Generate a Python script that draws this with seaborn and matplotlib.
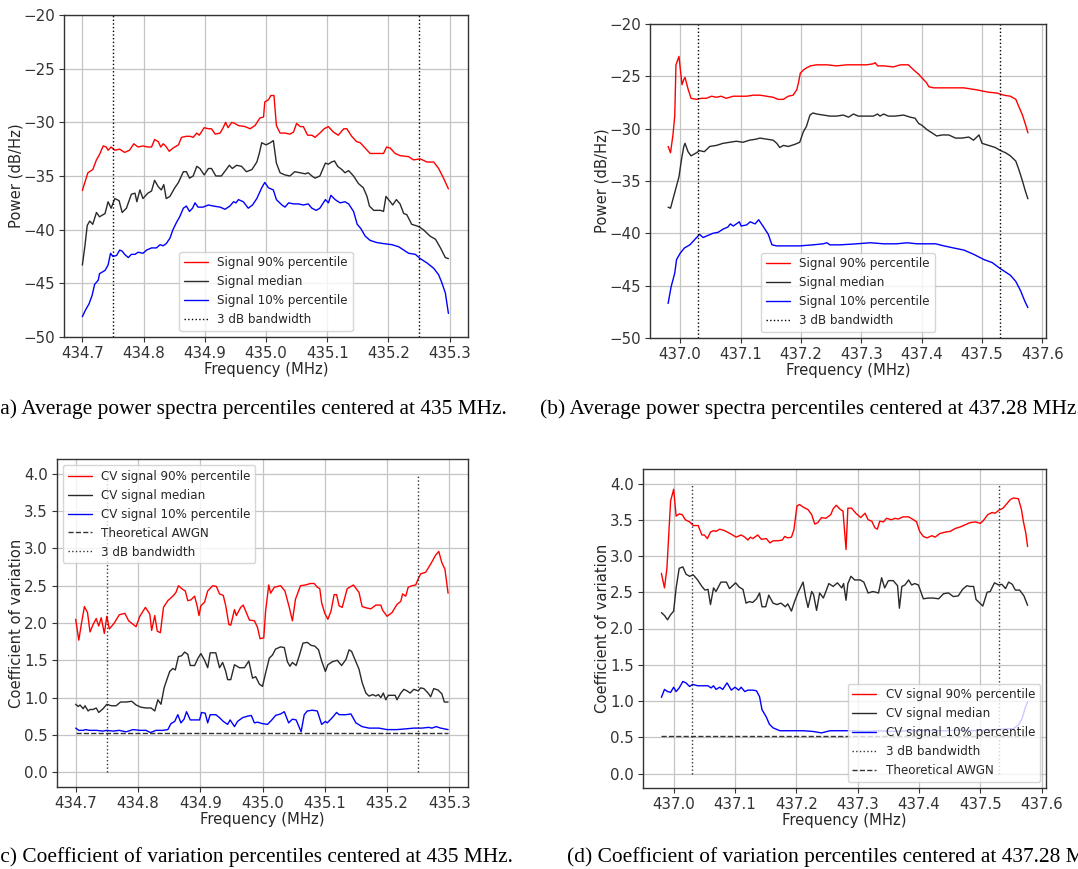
import matplotlib
matplotlib.use("Agg")
import seaborn as sns
from matplotlib import pyplot as plt

# ---------------- (a) power spectra, centre 435 MHz ----------------
a_f90 = [434.700, 434.709, 434.717, 434.723, 434.728, 434.734, 434.739, 434.742, 434.747, 434.753,
         434.761, 434.769, 434.777, 434.784, 434.791, 434.799, 434.807, 434.813, 434.818, 434.824,
         434.828, 434.832, 434.836, 434.842, 434.848, 434.857, 434.862, 434.870, 434.876, 434.881,
         434.887, 434.891, 434.899, 434.906, 434.911, 434.917, 434.925, 434.930, 434.934, 434.938,
         434.944, 434.949, 434.955, 434.966, 434.974, 434.982, 434.990, 434.996, 434.998, 435.004,
         435.008, 435.013, 435.017, 435.023, 435.031, 435.039, 435.045, 435.050, 435.056, 435.061,
         435.068, 435.075, 435.080, 435.088, 435.095, 435.102, 435.110, 435.118, 435.127, 435.132,
         435.140, 435.148, 435.154, 435.162, 435.170, 435.181, 435.192, 435.197, 435.203, 435.211,
         435.219, 435.233, 435.241, 435.252, 435.263, 435.274, 435.282, 435.290, 435.298]
a_p90 = [-36.35, -34.7, -34.4, -33.5, -33.0, -32.2, -32.3, -32.6, -32.3, -32.6,
         -32.5, -32.8, -32.6, -32.0, -32.3, -32.2, -32.3, -32.3, -31.6, -31.8,
         -32.3, -32.0, -32.2, -32.7, -32.4, -32.1, -31.4, -31.3, -31.3, -31.4,
         -31.0, -31.2, -30.5, -30.6, -30.6, -31.1, -31.0, -30.5, -30.0, -30.5,
         -30.0, -30.1, -30.3, -30.4, -30.6, -30.3, -29.6, -29.5, -28.1, -27.9,
         -27.5, -27.5, -30.3, -31.0, -31.0, -31.1, -30.9, -30.1, -30.4, -30.4,
         -31.2, -31.2, -31.4, -31.0, -30.6, -30.4, -30.9, -31.2, -30.6, -30.6,
         -31.3, -31.8, -31.9, -32.4, -32.9, -32.9, -32.9, -32.3, -32.4, -32.9,
         -33.1, -33.2, -33.5, -33.4, -33.7, -33.7, -34.3, -35.2, -36.2]

a_fmed = [434.700, 434.704, 434.708, 434.712, 434.717, 434.723, 434.728, 434.737, 434.742, 434.747,
          434.753, 434.760, 434.765, 434.772, 434.780, 434.786, 434.789, 434.794, 434.799, 434.807,
          434.813, 434.818, 434.824, 434.829, 434.833, 434.837, 434.843, 434.851, 434.857, 434.865,
          434.870, 434.875, 434.881, 434.887, 434.892, 434.899, 434.906, 434.911, 434.918, 434.927,
          434.935, 434.940, 434.945, 434.952, 434.960, 434.968, 434.977, 434.985, 434.989, 434.993,
          435.000, 435.007, 435.012, 435.017, 435.023, 435.031, 435.039, 435.047, 435.056, 435.064,
          435.069, 435.075, 435.080, 435.088, 435.097, 435.102, 435.107, 435.112, 435.117, 435.124,
          435.129, 435.135, 435.143, 435.151, 435.159, 435.165, 435.169, 435.176, 435.187, 435.192,
          435.196, 435.203, 435.207, 435.213, 435.219, 435.225, 435.230, 435.238, 435.249, 435.257,
          435.268, 435.277, 435.285, 435.293, 435.298]
a_med = [-43.3, -41.6, -39.6, -39.2, -39.5, -38.4, -38.8, -38.5, -37.4, -38.0,
         -37.1, -37.3, -38.4, -38.0, -36.7, -36.6, -37.4, -36.3, -37.1, -36.6,
         -36.4, -35.4, -36.0, -36.3, -35.8, -37.1, -36.9, -36.1, -35.6, -34.6,
         -34.6, -35.2, -35.0, -34.1, -34.3, -34.9, -34.3, -34.3, -35.0, -35.0,
         -34.4, -34.0, -34.3, -34.0, -34.1, -34.6, -34.4, -33.7, -32.9, -31.9,
         -32.1, -31.9, -31.7, -33.8, -34.7, -34.9, -35.0, -34.6, -34.7, -34.8,
         -34.7, -35.0, -35.2, -35.0, -33.8, -33.9, -33.7, -33.6, -34.1, -34.4,
         -34.7, -34.5, -35.0, -35.7, -36.1, -36.9, -37.8, -38.2, -38.2, -38.3,
         -36.9, -37.4, -37.7, -37.2, -37.6, -38.5, -38.6, -39.5, -39.7, -40.0,
         -40.6, -40.9, -41.7, -42.6, -42.7]

a_f10 = [434.700, 434.705, 434.711, 434.716, 434.720, 434.726, 434.728, 434.737, 434.742, 434.746,
         434.750, 434.756, 434.761, 434.765, 434.769, 434.775, 434.780, 434.786, 434.791, 434.799,
         434.805, 434.813, 434.821, 434.827, 434.832, 434.837, 434.843, 434.848, 434.854, 434.859,
         434.865, 434.870, 434.875, 434.880, 434.884, 434.889, 434.897, 434.906, 434.914, 434.925,
         434.933, 434.941, 434.947, 434.951, 434.955, 434.963, 434.971, 434.978, 434.985, 434.993,
         434.998, 435.004, 435.012, 435.017, 435.026, 435.031, 435.037, 435.045, 435.053, 435.061,
         435.069, 435.075, 435.082, 435.088, 435.097, 435.102, 435.106, 435.113, 435.121, 435.129,
         435.135, 435.143, 435.149, 435.155, 435.162, 435.170, 435.181, 435.192, 435.206, 435.217,
         435.225, 435.233, 435.244, 435.252, 435.263, 435.274, 435.282, 435.287, 435.293, 435.298]
a_p10 = [-48.1, -47.5, -46.9, -46.1, -45.1, -44.7, -44.1, -43.8, -43.3, -42.2,
         -42.5, -42.4, -41.9, -42.0, -42.3, -42.6, -42.3, -42.3, -42.1, -42.2,
         -41.9, -41.7, -41.7, -41.4, -41.5, -41.3, -40.8, -40.0, -39.3, -38.8,
         -38.0, -37.8, -38.3, -38.0, -37.5, -37.9, -37.9, -37.7, -37.8, -37.9,
         -38.1, -37.8, -37.4, -37.5, -37.2, -37.4, -38.0, -37.7, -37.1, -36.1,
         -35.6, -36.1, -36.3, -37.2, -37.7, -37.9, -37.5, -37.6, -37.6, -37.7,
         -37.6, -38.0, -38.2, -38.0, -37.2, -37.5, -36.8, -37.2, -37.5, -37.4,
         -37.6, -38.3, -39.5, -39.9, -40.6, -41.0, -41.2, -41.3, -41.4, -41.6,
         -41.9, -42.2, -42.3, -42.7, -43.1, -43.6, -44.2, -44.9, -45.9, -47.8]

a_bw = [434.75, 435.25]

# ---------------- (b) power spectra, centre 437.28 MHz ----------------
b_f90 = [436.980, 436.984, 436.988, 436.991, 436.993, 436.998, 437.000, 437.003, 437.006, 437.008,
         437.013, 437.018, 437.027, 437.035, 437.043, 437.052, 437.060, 437.068, 437.076, 437.088,
         437.099, 437.110, 437.121, 437.132, 437.143, 437.154, 437.162, 437.171, 437.179, 437.187,
         437.193, 437.196, 437.199, 437.204, 437.209, 437.216, 437.226, 437.243, 437.259, 437.276,
         437.293, 437.309, 437.320, 437.323, 437.327, 437.337, 437.353, 437.365, 437.378, 437.387,
         437.395, 437.403, 437.408, 437.412, 437.420, 437.437, 437.453, 437.470, 437.481, 437.492,
         437.509, 437.525, 437.536, 437.547, 437.556, 437.561, 437.567, 437.572, 437.576]
b_p90 = [-31.7, -32.3, -30.6, -28.8, -23.9, -23.1, -24.2, -25.8, -25.3, -25.1,
         -26.2, -27.1, -27.2, -27.1, -27.1, -26.9, -27.0, -26.9, -27.1, -26.9,
         -26.9, -26.9, -26.8, -26.8, -26.9, -27.0, -27.2, -27.2, -26.9, -26.8,
         -26.3, -25.6, -24.7, -24.4, -24.2, -24.0, -23.9, -23.9, -24.0, -23.9,
         -23.9, -23.9, -23.8, -23.7, -24.0, -24.0, -24.1, -23.9, -23.9, -24.4,
         -24.8, -25.3, -25.6, -26.0, -26.1, -26.1, -26.1, -26.1, -26.2, -26.3,
         -26.5, -26.6, -26.8, -26.9, -27.2, -27.9, -28.7, -29.6, -30.4]

b_fmed = [436.980, 436.984, 436.991, 436.998, 437.002, 437.006, 437.008, 437.013, 437.018, 437.027,
          437.032, 437.040, 437.049, 437.060, 437.071, 437.082, 437.093, 437.104, 437.115, 437.126,
          437.132, 437.143, 437.154, 437.160, 437.165, 437.171, 437.179, 437.190, 437.198, 437.204,
          437.209, 437.215, 437.220, 437.226, 437.237, 437.248, 437.259, 437.270, 437.279, 437.287,
          437.295, 437.309, 437.320, 437.327, 437.331, 437.337, 437.345, 437.356, 437.370, 437.381,
          437.389, 437.395, 437.401, 437.409, 437.417, 437.425, 437.434, 437.445, 437.456, 437.467,
          437.478, 437.486, 437.495, 437.500, 437.511, 437.522, 437.531, 437.539, 437.547, 437.556,
          437.561, 437.567, 437.572, 437.576]
b_med = [-37.5, -37.6, -36.1, -34.6, -33.0, -31.7, -31.4, -32.2, -32.6, -32.3,
         -32.1, -32.2, -31.7, -31.6, -31.4, -31.3, -31.2, -31.3, -31.1, -31.0,
         -30.9, -31.0, -31.1, -31.4, -31.8, -31.6, -31.7, -31.5, -31.3, -30.3,
         -29.8, -28.7, -28.5, -28.6, -28.7, -28.8, -28.8, -28.7, -28.9, -28.6,
         -28.8, -28.8, -28.8, -28.6, -28.8, -28.6, -28.8, -28.8, -28.7, -28.9,
         -29.0, -29.5, -29.7, -30.1, -30.4, -30.7, -30.6, -30.6, -30.9, -30.9,
         -30.8, -31.1, -30.6, -31.4, -31.6, -31.8, -32.1, -32.3, -32.6, -33.1,
         -33.9, -35.0, -36.0, -36.7]

b_f10 = [436.980, 436.985, 436.991, 436.994, 437.000, 437.007, 437.016, 437.024, 437.032, 437.038,
         437.046, 437.054, 437.063, 437.071, 437.079, 437.083, 437.088, 437.093, 437.098, 437.101,
         437.110, 437.116, 437.124, 437.130, 437.137, 437.146, 437.152, 437.160, 437.176, 437.198,
         437.220, 437.237, 437.243, 437.248, 437.265, 437.293, 437.315, 437.337, 437.359, 437.376,
         437.392, 437.409, 437.423, 437.437, 437.453, 437.470, 437.486, 437.503, 437.517, 437.531,
         437.547, 437.556, 437.564, 437.571, 437.576]
b_p10 = [-46.7, -45.1, -43.8, -42.5, -41.9, -41.4, -41.1, -40.6, -40.1, -40.4,
         -40.2, -40.0, -39.9, -39.6, -39.4, -39.1, -39.3, -39.1, -38.9, -39.3,
         -39.2, -38.9, -39.1, -38.7, -39.3, -40.1, -41.1, -41.2, -41.2, -41.2,
         -41.1, -41.0, -40.9, -41.1, -41.1, -41.0, -40.9, -41.0, -41.0, -40.9,
         -41.0, -41.0, -41.0, -41.2, -41.4, -41.6, -42.0, -42.5, -42.8, -43.4,
         -44.0, -44.6, -45.5, -46.5, -47.1]

b_bw = [437.03, 437.53]

# ---------------- (c) coefficient of variation, centre 435 MHz ----------------
c_f90 = [434.700, 434.705, 434.709, 434.714, 434.719, 434.723, 434.728, 434.733, 434.737, 434.741,
         434.746, 434.750, 434.754, 434.762, 434.770, 434.779, 434.785, 434.797, 434.803, 434.812,
         434.819, 434.822, 434.827, 434.831, 434.836, 434.841, 434.848, 434.856, 434.861, 434.865,
         434.872, 434.876, 434.880, 434.885, 434.891, 434.895, 434.898, 434.901, 434.907, 434.912,
         434.920, 434.926, 434.931, 434.937, 434.941, 434.946, 434.949, 434.955, 434.958, 434.965,
         434.969, 434.974, 434.979, 434.987, 434.992, 434.996, 435.002, 435.005, 435.010, 435.013,
         435.019, 435.029, 435.036, 435.043, 435.048, 435.053, 435.061, 435.069, 435.077, 435.083,
         435.088, 435.092, 435.095, 435.100, 435.105, 435.110, 435.115, 435.119, 435.123, 435.128,
         435.136, 435.146, 435.155, 435.160, 435.168, 435.174, 435.182, 435.190, 435.193, 435.200,
         435.208, 435.216, 435.222, 435.225, 435.230, 435.234, 435.240, 435.246, 435.250, 435.254,
         435.262, 435.270, 435.278, 435.283, 435.288, 435.293, 435.298]
c_p90 = [2.05, 1.77, 1.98, 2.22, 2.14, 1.88, 1.98, 2.06, 1.96, 2.07,
         1.86, 2.09, 1.92, 2.00, 2.11, 2.13, 2.03, 1.95, 2.09, 2.21,
         2.12, 1.90, 2.10, 1.89, 1.87, 2.21, 2.30, 2.36, 2.41, 2.50,
         2.45, 2.43, 2.30, 2.31, 2.36, 2.23, 2.10, 2.23, 2.28, 2.43,
         2.50, 2.49, 2.39, 2.37, 2.23, 1.98, 1.97, 2.18, 2.10, 2.21,
         2.24, 2.14, 2.04, 2.03, 1.94, 1.79, 1.80, 2.16, 2.51, 2.40,
         2.48, 2.50, 2.43, 2.21, 2.03, 2.32, 2.50, 2.51, 2.53, 2.53,
         2.48, 2.46, 2.27, 2.13, 2.05, 2.16, 2.38, 2.38, 2.23, 2.21,
         2.46, 2.51, 2.41, 2.22, 2.20, 2.19, 2.24, 2.24, 2.17, 2.09,
         2.14, 2.25, 2.29, 2.39, 2.36, 2.48, 2.50, 2.51, 2.59, 2.66,
         2.68, 2.79, 2.91, 2.96, 2.81, 2.72, 2.40]

c_fmed = [434.700, 434.704, 434.707, 434.712, 434.715, 434.720, 434.723, 434.728, 434.733, 434.737,
          434.744, 434.750, 434.757, 434.765, 434.772, 434.781, 434.790, 434.797, 434.805, 434.813,
          434.821, 434.827, 434.832, 434.837, 434.842, 434.846, 434.851, 434.856, 434.860, 434.865,
          434.870, 434.875, 434.880, 434.884, 434.891, 434.896, 434.901, 434.907, 434.912, 434.916,
          434.925, 434.931, 434.936, 434.941, 434.944, 434.949, 434.955, 434.963, 434.971, 434.978,
          434.984, 434.989, 434.995, 435.000, 435.005, 435.011, 435.016, 435.021, 435.029, 435.035,
          435.040, 435.044, 435.048, 435.054, 435.059, 435.065, 435.072, 435.078, 435.084, 435.090,
          435.095, 435.101, 435.105, 435.112, 435.120, 435.127, 435.134, 435.139, 435.143, 435.150,
          435.155, 435.160, 435.166, 435.171, 435.177, 435.182, 435.186, 435.190, 435.194, 435.198,
          435.202, 435.208, 435.213, 435.216, 435.222, 435.227, 435.232, 435.237, 435.243, 435.250,
          435.254, 435.259, 435.266, 435.270, 435.275, 435.282, 435.288, 435.292, 435.298]
c_med = [0.91, 0.88, 0.90, 0.85, 0.89, 0.82, 0.84, 0.84, 0.86, 0.80,
         0.85, 0.91, 0.89, 0.89, 0.94, 0.94, 0.95, 0.90, 0.87, 0.86,
         0.86, 0.82, 0.97, 0.91, 1.13, 1.23, 1.35, 1.39, 1.37, 1.55,
         1.56, 1.61, 1.58, 1.43, 1.43, 1.52, 1.59, 1.50, 1.40, 1.60,
         1.60, 1.40, 1.47, 1.35, 1.24, 1.24, 1.44, 1.40, 1.40, 1.49,
         1.26, 1.28, 1.18, 1.15, 1.33, 1.53, 1.57, 1.65, 1.68, 1.67,
         1.48, 1.42, 1.47, 1.43, 1.56, 1.73, 1.74, 1.70, 1.69, 1.64,
         1.49, 1.35, 1.44, 1.48, 1.50, 1.43, 1.51, 1.64, 1.62, 1.48,
         1.38, 1.20, 1.06, 1.02, 1.04, 1.02, 1.04, 1.00, 1.06, 0.97,
         1.03, 1.03, 1.03, 0.97, 1.06, 1.11, 1.09, 1.06, 1.11, 1.09,
         1.13, 1.12, 1.06, 1.01, 1.12, 1.10, 1.05, 0.94, 0.94]

c_f10 = [434.700, 434.705, 434.712, 434.716, 434.722, 434.733, 434.744, 434.750, 434.760, 434.770,
         434.781, 434.792, 434.803, 434.813, 434.820, 434.829, 434.840, 434.848, 434.853, 434.859,
         434.864, 434.869, 434.874, 434.878, 434.884, 434.893, 434.899, 434.902, 434.908, 434.912,
         434.916, 434.925, 434.931, 434.937, 434.944, 434.948, 434.955, 434.960, 434.968, 434.976,
         434.982, 434.987, 434.992, 435.000, 435.008, 435.015, 435.021, 435.029, 435.035, 435.042,
         435.048, 435.054, 435.062, 435.067, 435.072, 435.080, 435.088, 435.095, 435.101, 435.104,
         435.112, 435.119, 435.123, 435.134, 435.142, 435.150, 435.160, 435.171, 435.187, 435.200,
         435.216, 435.230, 435.243, 435.256, 435.267, 435.272, 435.279, 435.286, 435.298]
c_p10 = [0.59, 0.56, 0.56, 0.57, 0.56, 0.56, 0.55, 0.56, 0.55, 0.56,
         0.54, 0.57, 0.56, 0.56, 0.53, 0.56, 0.56, 0.57, 0.65, 0.68,
         0.77, 0.66, 0.71, 0.81, 0.70, 0.70, 0.70, 0.80, 0.79, 0.66,
         0.77, 0.77, 0.73, 0.68, 0.64, 0.70, 0.61, 0.68, 0.73, 0.75,
         0.76, 0.66, 0.67, 0.65, 0.64, 0.70, 0.76, 0.78, 0.81, 0.66,
         0.71, 0.70, 0.54, 0.77, 0.82, 0.83, 0.82, 0.64, 0.68, 0.66,
         0.73, 0.80, 0.77, 0.77, 0.78, 0.66, 0.61, 0.59, 0.59, 0.57,
         0.57, 0.58, 0.59, 0.59, 0.60, 0.59, 0.61, 0.59, 0.57]

c_bw = [434.75, 435.25]
c_span = [434.70, 435.298]

# ---------------- (d) coefficient of variation, centre 437.28 MHz ----------------
d_f90 = [436.980, 436.985, 436.989, 436.995, 437.000, 437.004, 437.009, 437.014, 437.019, 437.026,
         437.032, 437.040, 437.046, 437.050, 437.055, 437.060, 437.065, 437.069, 437.075, 437.083,
         437.092, 437.102, 437.110, 437.116, 437.121, 437.125, 437.129, 437.137, 437.143, 437.151,
         437.157, 437.162, 437.170, 437.177, 437.181, 437.186, 437.192, 437.196, 437.201, 437.205,
         437.212, 437.219, 437.225, 437.230, 437.235, 437.241, 437.248, 437.256, 437.260, 437.265,
         437.272, 437.276, 437.281, 437.284, 437.290, 437.297, 437.305, 437.312, 437.317, 437.323,
         437.328, 437.332, 437.336, 437.342, 437.347, 437.355, 437.361, 437.366, 437.374, 437.383,
         437.391, 437.396, 437.401, 437.407, 437.413, 437.421, 437.426, 437.434, 437.443, 437.451,
         437.459, 437.467, 437.475, 437.483, 437.492, 437.500, 437.505, 437.512, 437.519, 437.524,
         437.530, 437.537, 437.543, 437.549, 437.554, 437.562, 437.567, 437.570, 437.574, 437.577]
d_p90 = [2.76, 2.56, 2.83, 3.76, 3.92, 3.55, 3.58, 3.57, 3.50, 3.47,
         3.42, 3.42, 3.29, 3.29, 3.24, 3.33, 3.35, 3.34, 3.37, 3.35,
         3.31, 3.26, 3.29, 3.26, 3.22, 3.26, 3.24, 3.29, 3.23, 3.24,
         3.18, 3.21, 3.21, 3.22, 3.27, 3.25, 3.26, 3.36, 3.69, 3.71,
         3.67, 3.64, 3.57, 3.44, 3.46, 3.53, 3.52, 3.57, 3.65, 3.70,
         3.64, 3.62, 3.09, 3.66, 3.66, 3.59, 3.53, 3.59, 3.50, 3.48,
         3.39, 3.37, 3.48, 3.47, 3.52, 3.50, 3.52, 3.51, 3.54, 3.54,
         3.50, 3.47, 3.34, 3.27, 3.25, 3.28, 3.26, 3.31, 3.33, 3.34,
         3.38, 3.40, 3.43, 3.46, 3.47, 3.45, 3.49, 3.57, 3.60, 3.59,
         3.63, 3.66, 3.72, 3.78, 3.80, 3.79, 3.64, 3.48, 3.32, 3.13]

d_fmed = [436.980, 436.985, 436.990, 436.995, 437.000, 437.004, 437.009, 437.015, 437.020, 437.026,
          437.032, 437.039, 437.046, 437.051, 437.056, 437.060, 437.065, 437.069, 437.077, 437.086,
          437.091, 437.101, 437.107, 437.113, 437.118, 437.123, 437.129, 437.135, 437.140, 437.144,
          437.150, 437.155, 437.162, 437.168, 437.175, 437.182, 437.186, 437.192, 437.197, 437.203,
          437.211, 437.215, 437.219, 437.225, 437.228, 437.233, 437.238, 437.244, 437.249, 437.253,
          437.260, 437.267, 437.274, 437.277, 437.281, 437.284, 437.289, 437.295, 437.304, 437.310,
          437.317, 437.325, 437.334, 437.339, 437.344, 437.350, 437.358, 437.365, 437.368, 437.372,
          437.377, 437.383, 437.388, 437.393, 437.399, 437.407, 437.415, 437.423, 437.432, 437.440,
          437.448, 437.456, 437.464, 437.471, 437.478, 437.483, 437.489, 437.493, 437.498, 437.504,
          437.511, 437.516, 437.523, 437.530, 437.535, 437.541, 437.546, 437.552, 437.557, 437.564,
          437.571, 437.577]
d_med = [2.22, 2.18, 2.12, 2.19, 2.24, 2.56, 2.83, 2.85, 2.75, 2.72,
         2.74, 2.67, 2.58, 2.53, 2.54, 2.33, 2.56, 2.51, 2.64, 2.64,
         2.55, 2.63, 2.57, 2.54, 2.35, 2.37, 2.36, 2.41, 2.49, 2.30,
         2.30, 2.46, 2.35, 2.33, 2.35, 2.30, 2.34, 2.24, 2.37, 2.50,
         2.64, 2.44, 2.29, 2.51, 2.47, 2.25, 2.49, 2.42, 2.53, 2.62,
         2.58, 2.63, 2.56, 2.62, 2.39, 2.62, 2.72, 2.67, 2.67, 2.64,
         2.49, 2.51, 2.49, 2.70, 2.56, 2.66, 2.66, 2.59, 2.28, 2.58,
         2.60, 2.67, 2.60, 2.62, 2.60, 2.41, 2.42, 2.42, 2.41, 2.48,
         2.49, 2.44, 2.45, 2.54, 2.59, 2.58, 2.58, 2.40, 2.36, 2.31,
         2.50, 2.51, 2.63, 2.60, 2.61, 2.55, 2.64, 2.61, 2.53, 2.53,
         2.45, 2.32]

d_f10 = [436.980, 436.985, 436.990, 436.995, 437.000, 437.004, 437.009, 437.015, 437.020, 437.026,
         437.031, 437.039, 437.047, 437.056, 437.061, 437.065, 437.069, 437.075, 437.080, 437.087,
         437.094, 437.100, 437.106, 437.110, 437.116, 437.121, 437.129, 437.135, 437.140, 437.144,
         437.151, 437.156, 437.162, 437.173, 437.189, 437.211, 437.227, 437.241, 437.255, 437.271,
         437.293, 437.314, 437.336, 437.358, 437.380, 437.402, 437.423, 437.445, 437.467, 437.489,
         437.511, 437.532, 437.554, 437.562, 437.568, 437.573, 437.577]
d_p10 = [1.05, 1.16, 1.13, 1.12, 1.19, 1.13, 1.18, 1.27, 1.25, 1.20,
         1.23, 1.21, 1.21, 1.21, 1.18, 1.21, 1.16, 1.19, 1.16, 1.25,
         1.15, 1.19, 1.15, 1.19, 1.13, 1.15, 1.15, 1.14, 1.06, 0.88,
         0.78, 0.68, 0.63, 0.59, 0.59, 0.59, 0.58, 0.56, 0.59, 0.59,
         0.59, 0.58, 0.59, 0.58, 0.59, 0.59, 0.59, 0.59, 0.60, 0.59,
         0.60, 0.61, 0.62, 0.67, 0.76, 0.90, 0.99]

d_bw = [437.03, 437.53]
d_span = [436.98, 437.577]

awgn_cv = 0.523

# ---------------- style ----------------
sns.set_style("ticks", {"axes.edgecolor": "#333333", "axes.grid": True,
                        "grid.color": "#c4c4c4", "text.color": "#262626",
                        "xtick.color": "#333333", "ytick.color": "#333333",
                        "axes.labelcolor": "#262626"})
plt.rcParams["font.family"] = ["DejaVu Sans"]
plt.rcParams["grid.linewidth"] = 0.9
plt.rcParams["axes.linewidth"] = 1.0

RED, BLACK, BLUE = "#ff0000", "#2a2a2a", "#0000ff"
LW = 1.0

fig = plt.figure(figsize=(10.78, 8.69), dpi=100)
W, H = 1078.0, 869.0


def make_ax(left, top, right, bottom):
    return fig.add_axes([left / W, 1 - bottom / H, (right - left) / W, (bottom - top) / H])


def curves(ax, fa, va, fb, vb, fc, vc, labels):
    sns.lineplot(x=fa, y=va, ax=ax, color=RED, lw=LW, label=labels[0], sort=False, errorbar=None)
    sns.lineplot(x=fb, y=vb, ax=ax, color=BLACK, lw=LW, label=labels[1], sort=False, errorbar=None)
    sns.lineplot(x=fc, y=vc, ax=ax, color=BLUE, lw=LW, label=labels[2], sort=False, errorbar=None)


def finish(ax, xticks, yticks, xlim, ylim, ylabel):
    ax.set_xlim(*xlim)
    ax.set_ylim(*ylim)
    ax.set_xticks(xticks)
    ax.set_xticklabels([f"{t:.1f}" for t in xticks])
    ax.set_yticks(yticks)
    ax.tick_params(labelsize=10.8, length=3.5, width=0.8, pad=3)
    ax.set_xlabel("Frequency (MHz)", fontsize=10.6, labelpad=1)
    ax.set_ylabel(ylabel, fontsize=10.6, labelpad=0)
    ax.grid(True)
    for s in ax.spines.values():
        s.set_visible(True)


psd_labels = ["Signal 90% percentile", "Signal median", "Signal 10% percentile"]
cv_labels = ["CV signal 90% percentile", "CV signal median", "CV signal 10% percentile"]
x435 = [434.7, 434.8, 434.9, 435.0, 435.1, 435.2, 435.3]
x437 = [437.0, 437.1, 437.2, 437.3, 437.4, 437.5, 437.6]
psd_y = [-50, -45, -40, -35, -30, -25, -20]
cv_y = [0.0, 0.5, 1.0, 1.5, 2.0, 2.5, 3.0, 3.5, 4.0]
leg_kw = dict(fontsize=8.6, frameon=True, framealpha=0.8, edgecolor="0.8", fancybox=True)

# (a)
ax = make_ax(64, 15, 468, 337)
curves(ax, a_f90, a_p90, a_fmed, a_med, a_f10, a_p10, psd_labels)
for i, f in enumerate(a_bw):
    ax.axvline(f, color="k", ls=":", lw=1, label="3 dB bandwidth" if i == 0 else None)
finish(ax, x435, psd_y, (434.67, 435.33), (-50, -20), "Power (dB/Hz)")
ax.legend(loc="lower center", **leg_kw)

# (b)
ax = make_ax(650, 24, 1046, 338)
curves(ax, b_f90, b_p90, b_fmed, b_med, b_f10, b_p10, psd_labels)
for i, f in enumerate(b_bw):
    ax.axvline(f, color="k", ls=":", lw=1, label="3 dB bandwidth" if i == 0 else None)
finish(ax, x437, psd_y, (436.950, 437.606), (-50, -20), "Power (dB/Hz)")
ax.legend(loc="lower center", **leg_kw)

# (c)
ax = make_ax(57, 459, 468, 787)
curves(ax, c_f90, c_p90, c_fmed, c_med, c_f10, c_p10, cv_labels)
ax.hlines(awgn_cv, c_span[0], c_span[1], colors="#333333", linestyles="--", lw=1,
          label="Theoretical AWGN")
ax.vlines(c_bw, 0, 4, colors="#333333", linestyles=":", lw=1, label="3 dB bandwidth")
finish(ax, x435, cv_y, (434.67, 435.33), (-0.2, 4.2), "Coefficient of variation")
ax.legend(loc="upper left", **leg_kw)

# (d)
ax = make_ax(643, 469, 1046, 788)
curves(ax, d_f90, d_p90, d_fmed, d_med, d_f10, d_p10, cv_labels)
ax.vlines(d_bw, 0, 4, colors="#333333", linestyles=":", lw=1, label="3 dB bandwidth")
ax.hlines(awgn_cv, d_span[0], d_span[1], colors="#333333", linestyles="--", lw=1,
          label="Theoretical AWGN")
finish(ax, x437, cv_y, (436.950, 437.607), (-0.2, 4.2), "Coefficient of variation")
ax.legend(loc="lower right", **leg_kw)

# captions, cropped at the page edges as in the source page
cap_kw = dict(family=["Liberation Serif", "DejaVu Serif"], fontsize=15.4, color="black",
              va="center", ha="left")
fig.text(-7 / W, 1 - 409 / H, "(a) Average power spectra percentiles centered at 435 MHz.", **cap_kw)
fig.text(540 / W, 1 - 409 / H, "(b) Average power spectra percentiles centered at 437.28 MHz.", **cap_kw)
fig.text(-7 / W, 1 - 857 / H, "(c) Coefficient of variation percentiles centered at 435 MHz.", **cap_kw)
fig.text(567 / W, 1 - 857 / H, "(d) Coefficient of variation percentiles centered at 437.28 MHz.", **cap_kw)

fig.savefig("out.png", dpi=100)
